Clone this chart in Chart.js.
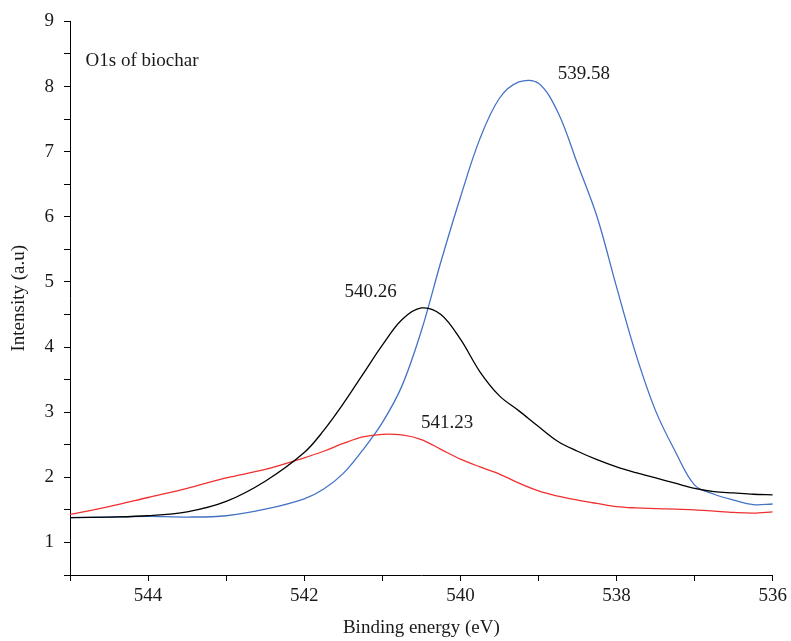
<!DOCTYPE html>
<html>
<head>
<meta charset="utf-8">
<title>O1s of biochar</title>
<script src="https://cdn.jsdelivr.net/npm/chart.js@4/dist/chart.umd.min.js"></script>
<style>
  html, body { margin: 0; padding: 0; background: #fff; }
  #wrap { width: 791px; height: 641px; }
</style>
</head>
<body>
<div id="wrap"><canvas id="xps"></canvas></div>
<script>
// binding energy grid (eV) shared by the three spectra
const energy = [545, 544.5, 544, 543.5, 543, 542.5, 542, 541.75, 541.5, 541.25, 541,
  540.75, 540.5, 540.25, 540, 539.75, 539.5, 539.25, 539, 538.75, 538.5, 538.25,
  538, 537.75, 537.5, 537.25, 537, 536.75, 536.5, 536.25, 536];

const blueCurve = [1.38, 1.39, 1.40, 1.39, 1.41, 1.51, 1.67, 1.82, 2.06, 2.42, 2.84,
  3.40, 4.25, 5.31, 6.30, 7.20, 7.82, 8.07, 8.05, 7.60, 6.81, 6.00,
  4.92, 3.88, 3.02, 2.40, 1.88, 1.74, 1.65, 1.58, 1.59];

const blackCurve = [1.38, 1.39, 1.41, 1.47, 1.63, 1.94, 2.38, 2.72, 3.13, 3.58, 4.03,
  4.42, 4.60, 4.50, 4.12, 3.62, 3.25, 3.02, 2.78, 2.55, 2.40, 2.27,
  2.16, 2.07, 1.99, 1.91, 1.83, 1.78, 1.76, 1.74, 1.73];

const redCurve = [1.43, 1.55, 1.69, 1.83, 1.99, 2.12, 2.30, 2.40, 2.52, 2.62, 2.66,
  2.65, 2.58, 2.43, 2.28, 2.16, 2.05, 1.91, 1.79, 1.71, 1.65, 1.60,
  1.55, 1.53, 1.52, 1.51, 1.50, 1.48, 1.46, 1.45, 1.47];

const peakText = ["539.58", "540.26", "541.23"];
const panelTitle = "O1s of biochar";

const serif = "'Liberation Serif', 'Times New Roman', serif";

function toPoints(ys) {
  return energy.map((e, i) => ({ x: e, y: ys[i] }));
}

function series(ys, color) {
  return {
    data: toPoints(ys),
    showLine: true,
    borderColor: color,
    borderWidth: 1.3,
    pointRadius: 0,
    tension: 0.35,
    fill: false
  };
}

// text placed in data units so it follows the axes
const notes = [
  { text: peakText[0], x: 538.42, y: 8.19, align: "center" },
  { text: peakText[1], x: 541.15, y: 4.85, align: "center" },
  { text: peakText[2], x: 540.17, y: 2.83, align: "center" },
  { text: panelTitle, x: 544.8, y: 8.39, align: "left" }
];

const notePlugin = {
  id: "peakNotes",
  afterDatasetsDraw(chart) {
    const { ctx, scales } = chart;
    ctx.save();
    ctx.font = "19px " + serif;
    ctx.fillStyle = "#1a1a1a";
    ctx.textBaseline = "middle";
    notes.forEach(n => {
      ctx.textAlign = n.align;
      ctx.fillText(n.text, scales.x.getPixelForValue(n.x), scales.y.getPixelForValue(n.y));
    });
    ctx.restore();
  }
};

const axisCommon = {
  grid: { drawOnChartArea: false, drawTicks: true, tickLength: 6, tickColor: "#000", tickWidth: 1 },
  border: { display: true, color: "#000", width: 1 }
};

new Chart(document.getElementById("xps"), {
  type: "scatter",
  data: {
    datasets: [
      series(blackCurve, "#000000"),
      series(redCurve, "#f03030"),
      series(blueCurve, "#4472c4")
    ]
  },
  options: {
    responsive: true,
    maintainAspectRatio: false,
    animation: false,
    layout: { padding: { top: 20, right: 18, left: 0, bottom: 0 } },
    plugins: { legend: { display: false }, tooltip: { enabled: false } },
    scales: {
      x: {
        ...axisCommon,
        type: "linear",
        min: 536,
        max: 545,
        reverse: true,
        afterFit: s => { s.height = 66; },
        ticks: {
          stepSize: 1,
          autoSkip: false,
          maxRotation: 0,
          padding: 4,
          color: "#1a1a1a",
          font: { family: serif, size: 19 },
          callback: v => (v % 2 === 0 ? String(v) : "")
        },
        title: {
          display: true,
          text: "Binding energy (eV)",
          color: "#1a1a1a",
          font: { family: serif, size: 19 },
          padding: { top: 0, bottom: 2 }
        }
      },
      y: {
        ...axisCommon,
        min: 0.5,
        max: 9,
        afterFit: s => { s.width = 70; },
        ticks: {
          stepSize: 0.5,
          autoSkip: false,
          padding: 10,
          color: "#1a1a1a",
          font: { family: serif, size: 19 },
          callback: v => (Number.isInteger(v) ? String(v) : "")
        },
        title: {
          display: true,
          text: "Intensity (a.u)",
          color: "#1a1a1a",
          font: { family: serif, size: 19 },
          padding: { top: 8, bottom: 0 }
        }
      }
    }
  },
  plugins: [notePlugin]
});
</script>
</body>
</html>
